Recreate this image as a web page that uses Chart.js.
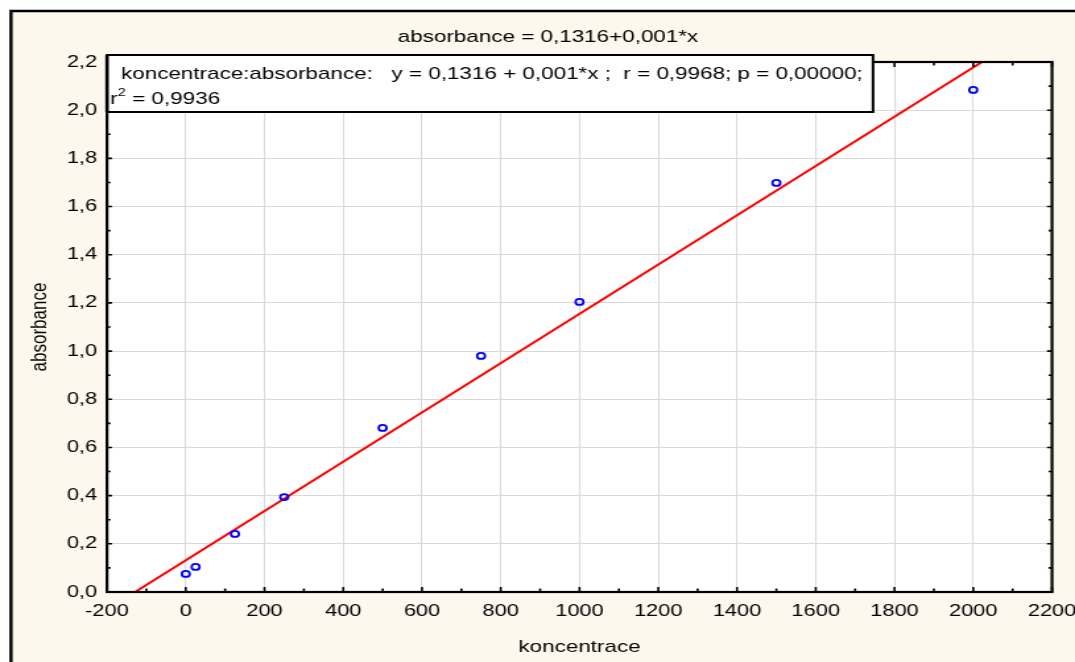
<!DOCTYPE html>
<html>
<head>
<meta charset="utf-8">
<script src="https://cdn.jsdelivr.net/npm/chart.js@4.4.1/dist/chart.umd.min.js"></script>
<style>
html,body{margin:0;padding:0;background:#fff;overflow:hidden;}
#c{display:block;width:1075px !important;height:662px !important;}
</style>
</head>
<body>
<canvas id="c" width="815" height="662" style="width:1075px;height:662px;display:block;"></canvas>
<script>
// ---- data ----
const koncentrace = [0, 25, 125, 250, 500, 750, 1000, 1500, 2000];
const absorbance  = [0.075, 0.104, 0.241, 0.394, 0.681, 0.980, 1.204, 1.698, 2.084];
// fitted line as drawn in the picture (the label shows the rounded slope 0,001)
const fitIntercept = 0.1316;
const fitSlope = 0.001023;
const xTickRange = [-200, 2200];
const yTickRange = [0, 2.2];
const titleText = 'absorbance = 0,1316+0,001*x';
const statLine1 = 'koncentrace:absorbance:   y = 0,1316 + 0,001*x ;  r = 0,9968; p = 0,00000;';
const statLine2a = 'r';
const statLine2sup = '2';
const statLine2b = ' = 0,9936';
const xTitle = 'koncentrace';
const yTitle = 'absorbance';

// ---- layout (canvas is drawn narrow and stretched horizontally like the reference) ----
const W = 815, H = 662, S = 1075 / W;
const FONT = '"Liberation Sans", Arial, sans-serif';
const CREAM = '#FDF8EE';

const lineData = xTickRange.map(x => ({x: x, y: fitIntercept + fitSlope * x}));
const pointData = koncentrace.map((x, i) => ({x: x, y: absorbance[i]}));

const fmtComma = (v, d) => Number(v).toFixed(d).replace('.', ',');

const decor = {
  id: 'decor',
  beforeDraw(chart) {
    const ctx = chart.ctx, a = chart.chartArea;
    ctx.save();
    ctx.fillStyle = '#fff';
    ctx.fillRect(0, 0, W, H);
    const fx = 11 / S, fy = 11;
    ctx.fillStyle = CREAM;
    ctx.fillRect(fx, fy, W - fx, H - fy);
    ctx.strokeStyle = '#000';
    ctx.lineWidth = 2.4;
    ctx.beginPath();
    ctx.moveTo(fx, H + 2);
    ctx.lineTo(fx, fy);
    ctx.lineTo(W + 2, fy);
    ctx.stroke();
    ctx.fillStyle = '#fff';
    ctx.fillRect(a.left, a.top, a.right - a.left, a.bottom - a.top);
    ctx.fillStyle = '#000';
    ctx.font = '17px ' + FONT;
    ctx.textAlign = 'center';
    ctx.textBaseline = 'middle';
    ctx.fillText(titleText, 548 / S, 37);
    ctx.restore();
  },
  afterDraw(chart) {
    const ctx = chart.ctx, a = chart.chartArea;
    const xs = chart.scales.x, ys = chart.scales.y;
    ctx.save();
    ctx.strokeStyle = '#000';
    // ticks (inward, all four sides)
    ctx.lineWidth = 1.6;
    ctx.beginPath();
    for (let v = xTickRange[0]; v <= xTickRange[1] + 1e-6; v += 100) {
      const px = xs.getPixelForValue(v);
      const len = (Math.round(v) % 200 === 0) ? 5 : 3.5;
      ctx.moveTo(px, a.bottom); ctx.lineTo(px, a.bottom - len);
      ctx.moveTo(px, a.top); ctx.lineTo(px, a.top + len);
    }
    ctx.stroke();
    ctx.lineWidth = 1.6;
    ctx.beginPath();
    for (let k = 0; k <= 22; k++) {
      const py = ys.getPixelForValue(k / 10);
      const len = (k % 2 === 0) ? 5 / S : 3.5 / S;
      ctx.moveTo(a.left, py); ctx.lineTo(a.left + len, py);
      ctx.moveTo(a.right, py); ctx.lineTo(a.right - len, py);
    }
    ctx.stroke();
    // plot frame
    ctx.lineWidth = 2.2;
    ctx.strokeRect(a.left, a.top, a.right - a.left, a.bottom - a.top);
    // stats box
    const bx0 = 107 / S, bx1 = 873 / S, by0 = 55, by1 = 112;
    ctx.fillStyle = '#fff';
    ctx.fillRect(bx0, by0, bx1 - bx0, by1 - by0);
    ctx.lineWidth = 2;
    ctx.strokeRect(bx0, by0, bx1 - bx0, by1 - by0);
    ctx.lineWidth = 2.6;
    ctx.beginPath(); ctx.moveTo(bx0, by0); ctx.lineTo(bx0, by1); ctx.stroke();
    ctx.fillStyle = '#000';
    ctx.textAlign = 'left';
    ctx.textBaseline = 'alphabetic';
    ctx.font = '17px ' + FONT;
    ctx.fillText(statLine1, 121 / S, 79);
    let tx = 110 / S;
    ctx.fillText(statLine2a, tx, 104);
    tx += ctx.measureText(statLine2a).width;
    ctx.font = '11px ' + FONT;
    ctx.fillText(statLine2sup, tx + 0.3, 96);
    tx += ctx.measureText(statLine2sup).width + 0.3;
    ctx.font = '17px ' + FONT;
    ctx.fillText(statLine2b, tx, 104);
    ctx.restore();
  }
};

new Chart(document.getElementById('c'), {
  type: 'scatter',
  data: {
    datasets: [
      {
        label: 'absorbance',
        data: pointData,
        showLine: false,
        pointStyle: 'circle',
        pointRadius: 3,
        pointBorderWidth: 1.8,
        borderColor: '#0000ff',
        backgroundColor: 'rgba(255,255,255,0)',
        pointBorderColor: '#0000ff',
        pointBackgroundColor: 'rgba(255,255,255,0)',
        order: 0
      },
      {
        label: 'fit',
        data: lineData,
        showLine: true,
        borderColor: '#ff0000',
        borderWidth: 2,
        pointRadius: 0,
        fill: false,
        order: 1
      }
    ]
  },
  options: {
    responsive: false,
    animation: false,
    events: [],
    layout: {padding: {left: 0, right: W - 1052 / S, top: 62, bottom: 0}},
    plugins: {legend: {display: false}, tooltip: {enabled: false}, title: {display: false}},
    scales: {
      x: {
        type: 'linear',
        min: xTickRange[0], max: xTickRange[1],
        afterFit: s => { s.height = 70; s.paddingLeft = 0; s.paddingRight = 0; },
        ticks: {
          stepSize: 200,
          color: '#000',
          font: {family: FONT, size: 16.5},
          padding: 10,
          maxRotation: 0,
          autoSkip: false,
          callback: v => String(v)
        },
        grid: {color: '#d9d9d9', lineWidth: 1, drawTicks: false},
        border: {display: false},
        title: {
          display: true, text: xTitle, color: '#000',
          font: {family: FONT, size: 17},
          padding: {top: 0, bottom: 4}
        }
      },
      y: {
        type: 'linear',
        min: yTickRange[0], max: yTickRange[1],
        afterFit: s => { s.width = 107 / S; s.paddingTop = 0; s.paddingBottom = 0; },
        ticks: {
          stepSize: 0.2,
          color: '#000',
          font: {family: FONT, size: 16.5},
          padding: 7.5,
          autoSkip: false,
          callback: v => fmtComma(v, 1)
        },
        grid: {color: '#d9d9d9', lineWidth: 1, drawTicks: false},
        border: {display: false},
        title: {
          display: true, text: yTitle, color: '#000',
          font: {family: FONT, size: 17},
          padding: {top: 20, bottom: 0}
        }
      }
    }
  },
  plugins: [decor]
});
</script>
</body>
</html>
